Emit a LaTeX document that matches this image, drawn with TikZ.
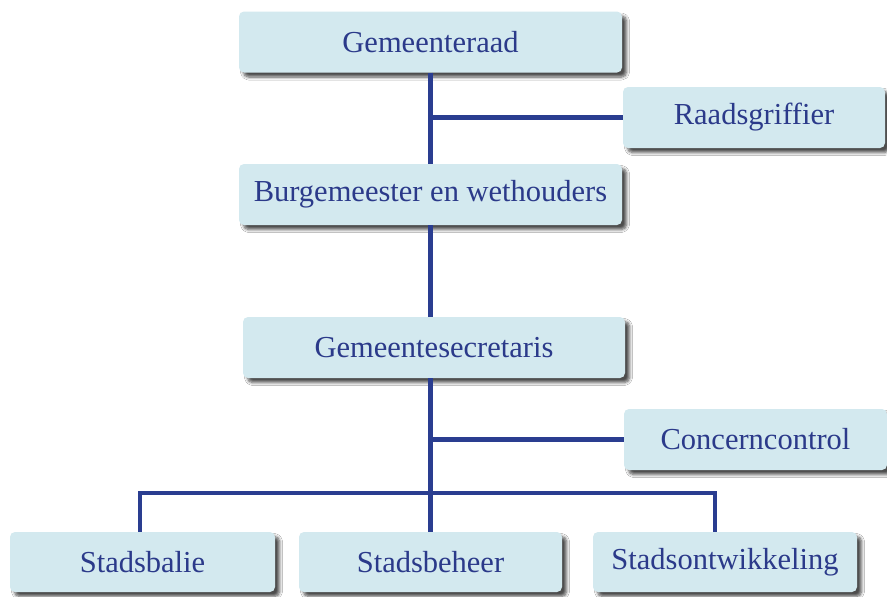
\documentclass[tikz,border=0pt]{standalone}
\usepackage{fontspec}
\setmainfont{Liberation Serif}
\usetikzlibrary{shadows.blur}
\definecolor{boxfill}{HTML}{D3E9EF}
\definecolor{txtblue}{HTML}{2B3A8A}
\definecolor{lineblue}{HTML}{2A3D90}
\begin{document}
\begin{tikzpicture}[x=1pt,y=-1pt,
  orgbox/.style={fill=boxfill, draw=none, rounded corners=5pt, inner sep=0pt,
    minimum height=61pt, text=txtblue,
    font=\fontsize{30.5}{35}\selectfont,
    blur shadow={shadow xshift=4.5pt, shadow yshift=-4.5pt, shadow blur steps=6,
      shadow blur radius=3pt, shadow opacity=70}},
  conn/.style={draw=lineblue, line width=4.5pt}]
\useasboundingbox[fill=white] (0,0) rectangle (887,597);
\node[orgbox, minimum width=383pt] (gr) at (430.5,42) {Gemeenteraad};
\node[orgbox, minimum width=262pt] (rg) at (754,117.5) {Raadsgriffier};
\node[orgbox, minimum width=383pt] (bw) at (430.5,194.5) {Burgemeester en wethouders};
\node[orgbox, minimum width=382pt] (gs) at (434,347.5) {Gemeentesecretaris};
\node[orgbox, minimum width=263pt] (cc) at (755.5,439.5) {Concerncontrol};
\node[orgbox, minimum width=265pt, minimum height=60pt] (sb) at (142.5,562) {Stadsbalie};
\node[orgbox, minimum width=263pt, minimum height=60pt] (sbh) at (430.5,562) {Stadsbeheer};
\node[orgbox, minimum width=264pt, minimum height=60pt] (so) at (725,562) {Stadsontwikkeling};
\coordinate (d1) at (140,493);
\coordinate (d3) at (715,493);
\draw[conn] (gr.south) -- (bw.north);
\draw[conn] (rg.west -| bw.north) -- (rg.west);
\draw[conn] (bw.south) -- (gs.north -| bw.south);
\draw[conn] (cc.west -| bw.south) -- (cc.west);
\draw[conn] (gs.south -| bw.south) -- (sbh.north -| bw.south);
\draw[conn] (d1 |- sb.north) -- (d1) -- (d3) -- (d3 |- so.north);
\end{tikzpicture}
\end{document}
